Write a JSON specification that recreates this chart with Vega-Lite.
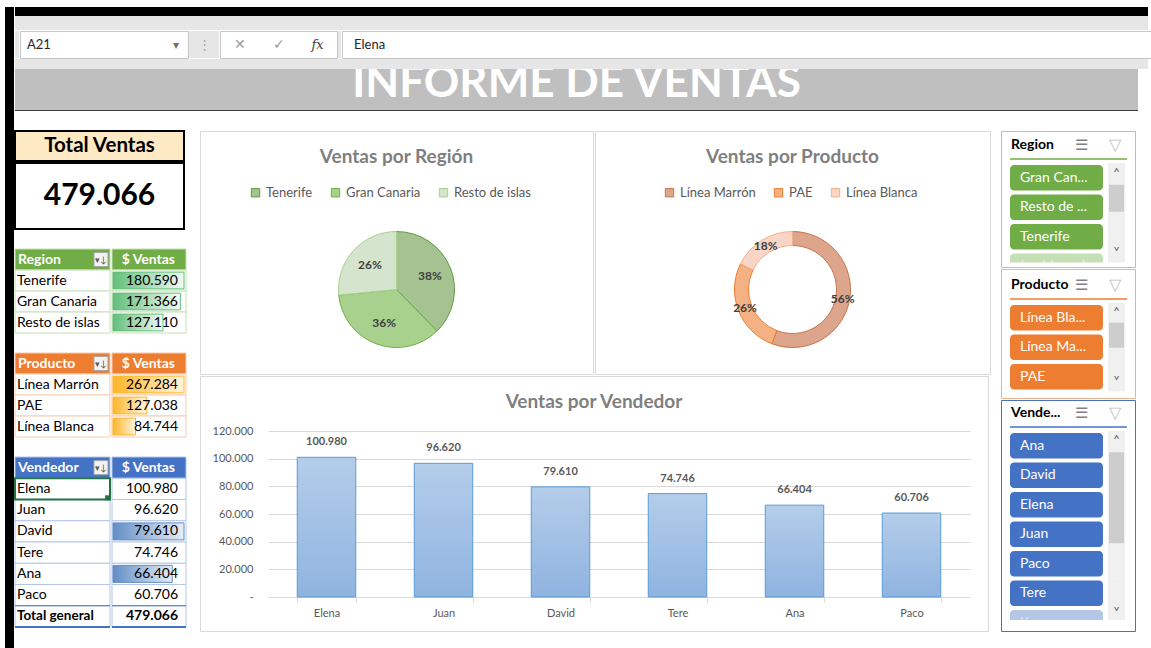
{
  "$schema": "https://vega.github.io/schema/vega-lite/v6.json",
  "background": "#ffffff",
  "padding": {"left": 5, "top": 7, "right": 0, "bottom": 0},
  "usermeta": {"embedOptions": {"actions": false}},
  "datasets": {
    "total": [{"Etiqueta": "Total Ventas", "Total": 479066}],
    "region": [
      {"Region": "Tenerife", "Ventas": 180590, "Pct": "38%"},
      {"Region": "Gran Canaria", "Ventas": 171366, "Pct": "36%"},
      {"Region": "Resto de islas", "Ventas": 127110, "Pct": "26%"}
    ],
    "producto": [
      {"Producto": "Línea Marrón", "Ventas": 267284, "Pct": "56%"},
      {"Producto": "PAE", "Ventas": 127038, "Pct": "26%"},
      {"Producto": "Línea Blanca", "Ventas": 84744, "Pct": "18%"}
    ],
    "vendedor": [
      {"Vendedor": "Elena", "Ventas": 100980},
      {"Vendedor": "Juan", "Ventas": 96620},
      {"Vendedor": "David", "Ventas": 79610},
      {"Vendedor": "Tere", "Ventas": 74746},
      {"Vendedor": "Ana", "Ventas": 66404},
      {"Vendedor": "Paco", "Ventas": 60706}
    ],
    "tablaRegion": [
      {"Label": "Region", "Head": "$ Ventas"},
      {"Label": "Tenerife", "Ventas": 180590},
      {"Label": "Gran Canaria", "Ventas": 171366},
      {"Label": "Resto de islas", "Ventas": 127110}
    ],
    "tablaProducto": [
      {"Label": "Producto", "Head": "$ Ventas"},
      {"Label": "Línea Marrón", "Ventas": 267284},
      {"Label": "PAE", "Ventas": 127038},
      {"Label": "Línea Blanca", "Ventas": 84744}
    ],
    "tablaVendedor": [
      {"Label": "Vendedor", "Head": "$ Ventas"},
      {"Label": "Elena", "Ventas": 100980},
      {"Label": "Juan", "Ventas": 96620},
      {"Label": "David", "Ventas": 79610},
      {"Label": "Tere", "Ventas": 74746},
      {"Label": "Ana", "Ventas": 66404},
      {"Label": "Paco", "Ventas": 60706},
      {"Label": "Total general", "Ventas": 479066}
    ]
  },
  "spacing": 0,
  "resolve": {"scale": {"color": "independent", "stroke": "independent"}, "legend": {"color": "independent", "stroke": "independent"}},
  "hconcat": [
    {"width": 9, "height": 641, "view": {"fill": "#000000"}, "data": {"values": [{}]}, "mark": {"type": "rect", "opacity": 0}, "encoding": {}},
    {
      "spacing": 0,
      "resolve": {"scale": {"color": "independent", "stroke": "independent"}, "legend": {"color": "independent", "stroke": "independent"}},
      "vconcat": [
        {"width": 1133, "height": 9, "view": {"fill": "#000000"}, "data": {"values": [{}]}, "mark": {"type": "rect", "opacity": 0}, "encoding": {}},
        {
          "spacing": 0,
          "vconcat": [
            {"width": 1133, "height": 14, "view": {"fill": "#e6e6e6"}, "data": {"values": [{}]}, "mark": {"type": "rect", "opacity": 0}, "encoding": {}},
            {
              "spacing": 0,
              "hconcat": [
                {"width": 4, "height": 27, "view": {"fill": "#e6e6e6"}, "data": {"values": [{}]}, "mark": {"type": "rect", "opacity": 0}, "encoding": {}},
                {
                  "width": 168, "height": 27,
                  "view": {"fill": "#ffffff", "stroke": "#c6c6c6"},
                  "data": {"values": [{"Celda": "A21"}]},
                  "layer": [
                    {"mark": {"type": "text", "align": "left", "dx": 7, "fontSize": 13, "color": "#262626"},
                     "encoding": {"x": {"datum": 0, "type": "quantitative", "scale": {"domain": [0, 1]}, "axis": null}, "text": {"field": "Celda"}}},
                    {"mark": {"type": "text", "text": "▾", "dx": -12, "fontSize": 12, "color": "#707070"},
                     "encoding": {"x": {"datum": 1, "type": "quantitative", "scale": {"domain": [0, 1]}, "axis": null}}}
                  ]
                },
                {"width": 30, "height": 27, "view": {"fill": "#e6e6e6"}, "data": {"values": [{}]}, "mark": {"type": "text", "text": "⋮", "fontSize": 13, "color": "#a6a6a6"}, "encoding": {}},
                {
                  "width": 117, "height": 27,
                  "view": {"fill": "#ffffff", "stroke": "#c6c6c6"},
                  "data": {"values": [{"Icono": "✕"}, {"Icono": "✓"}, {"Icono": "fx"}]},
                  "encoding": {"x": {"field": "Icono", "type": "nominal", "sort": null, "axis": null, "scale": {"paddingInner": 0, "paddingOuter": 0}}},
                  "layer": [
                    {"transform": [{"filter": "datum.Icono !== 'fx'"}], "mark": {"type": "text", "fontSize": 14, "color": "#9a9a9a"}, "encoding": {"text": {"field": "Icono"}}},
                    {"transform": [{"filter": "datum.Icono === 'fx'"}], "mark": {"type": "text", "fontSize": 13, "font": "DejaVu Serif", "fontStyle": "italic", "color": "#404040"}, "encoding": {"text": {"field": "Icono"}}}
                  ]
                },
                {"width": 3, "height": 27, "view": {"fill": "#e6e6e6"}, "data": {"values": [{}]}, "mark": {"type": "rect", "opacity": 0}, "encoding": {}},
                {
                  "width": 811, "height": 27,
                  "view": {"fill": "#ffffff", "stroke": "#c6c6c6"},
                  "data": {"values": [{"Contenido": "Elena"}]},
                  "mark": {"type": "text", "align": "left", "dx": 12, "fontSize": 13, "color": "#262626"},
                  "encoding": {"x": {"datum": 0, "type": "quantitative", "scale": {"domain": [0, 1]}, "axis": null}, "text": {"field": "Contenido"}}
                }
              ]
            },
            {"width": 1133, "height": 10, "view": {"fill": "#e6e6e6"}, "data": {"values": [{}]}, "mark": {"type": "rect", "opacity": 0}, "encoding": {}}
          ]
        },
        {
          "spacing": 0,
          "vconcat": [
            {
              "width": 1123, "height": 41,
              "view": {"fill": "#bfbfbf"},
              "data": {"values": [{"Titulo": "INFORME DE VENTAS"}]},
              "mark": {"type": "text", "fontSize": 44, "fontWeight": "bold", "color": "#ffffff", "baseline": "alphabetic", "dy": 7, "clip": true},
              "encoding": {"text": {"field": "Titulo"}}
            },
            {"width": 1123, "height": 1, "view": {"fill": "#3f3f3f"}, "data": {"values": [{}]}, "mark": {"type": "rect", "opacity": 0}, "encoding": {}}
          ]
        },
        {"width": 1133, "height": 19, "data": {"values": [{}]}, "mark": {"type": "rect", "opacity": 0}, "encoding": {}},
        {
          "spacing": 12,
          "resolve": {"scale": {"color": "independent", "stroke": "independent"}, "legend": {"color": "independent", "stroke": "independent"}},
          "hconcat": [
            {
              "spacing": 18,
              "vconcat": [
                {
                  "spacing": 0,
                  "vconcat": [
                    {"width": 169, "height": 30, "view": {"fill": "#fde9c4", "stroke": "#000000", "strokeWidth": 2}, "data": {"name": "total"},
                     "mark": {"type": "text", "fontSize": 20.5, "fontWeight": "bold", "color": "#000000"}, "encoding": {"text": {"field": "Etiqueta"}}},
                    {"width": 169, "height": 66, "view": {"fill": "#ffffff", "stroke": "#000000", "strokeWidth": 2}, "data": {"name": "total"},
                     "mark": {"type": "text", "fontSize": 30, "fontWeight": "bold", "color": "#000000"}, "encoding": {"text": {"field": "Total", "type": "quantitative", "format": ",.0f"}}}
                  ]
                },
                {
                  "spacing": 0,
                  "hconcat": [
                    {
                      "width": 95, "height": 84,
                      "data": {"name": "tablaRegion"},
                      "encoding": {"y": {"field": "Label", "type": "nominal", "sort": null, "axis": null, "scale": {"paddingInner": 0, "paddingOuter": 0}}},
                      "layer": [
                        {"mark": {"type": "rect", "stroke": "#c6e0b4", "strokeWidth": 1},
                         "encoding": {"fill": {"condition": {"test": "datum.Head != null", "value": "#70ad47"}, "value": "#ffffff"}}},
                        {"transform": [{"filter": "datum.Head != null"}],
                         "mark": {"type": "text", "align": "left", "dx": 3, "fontSize": 14, "fontWeight": "bold", "color": "#ffffff"},
                         "encoding": {"x": {"datum": 0, "type": "quantitative", "scale": {"domain": [0, 1]}, "axis": null}, "text": {"field": "Label"}}},
                        {"transform": [{"filter": "datum.Head == null"}],
                         "mark": {"type": "text", "align": "left", "dx": 2, "fontSize": 14, "color": "#000000"},
                         "encoding": {"x": {"datum": 0, "type": "quantitative", "scale": {"domain": [0, 1]}, "axis": null}, "text": {"field": "Label"}}},
                        {"transform": [{"filter": "datum.Head != null"}],
                         "mark": {"type": "point", "shape": "square", "size": 196, "filled": true, "fill": "#f2f2f2", "stroke": "#a6a6a6", "strokeWidth": 1, "opacity": 1},
                         "encoding": {"x": {"datum": 0.905, "type": "quantitative", "scale": {"domain": [0, 1]}, "axis": null}}},
                        {"transform": [{"filter": "datum.Head != null"}],
                         "mark": {"type": "text", "text": "▾↓", "fontSize": 9, "color": "#595959"},
                         "encoding": {"x": {"datum": 0.905, "type": "quantitative", "scale": {"domain": [0, 1]}, "axis": null}}}
                      ]
                    },
                    {
                      "width": 74, "height": 84,
                      "data": {"name": "tablaRegion"},
                      "encoding": {"y": {"field": "Label", "type": "nominal", "sort": null, "axis": null, "scale": {"paddingInner": 0, "paddingOuter": 0}}},
                      "layer": [
                        {"mark": {"type": "rect", "stroke": "#c6e0b4", "strokeWidth": 1},
                         "encoding": {"fill": {"condition": {"test": "datum.Head != null", "value": "#70ad47"}, "value": "#ffffff"}}},
                        {"transform": [{"filter": "datum.Ventas != null"}],
                         "mark": {"type": "bar", "height": {"band": 0.8}, "stroke": "#63be7b", "strokeWidth": 1,
                                  "fill": {"gradient": "linear", "x1": 0, "y1": 0, "x2": 1, "y2": 0, "stops": [{"offset": 0, "color": "#63be7b"}, {"offset": 1, "color": "#f2f9f4"}]}},
                         "encoding": {"x": {"field": "Ventas", "type": "quantitative", "axis": null, "scale": {"domain": [0, 180590], "range": [1, 72], "nice": false}}}},
                        {"transform": [{"filter": "datum.Head != null"}],
                         "mark": {"type": "text", "align": "right", "dx": -9, "fontSize": 14, "fontWeight": "bold", "color": "#ffffff"},
                         "encoding": {"x": {"datum": 180590, "type": "quantitative"}, "text": {"field": "Head"}}},
                        {"transform": [{"filter": "datum.Ventas != null"}],
                         "mark": {"type": "text", "align": "right", "dx": -6, "fontSize": 14, "color": "#000000"},
                         "encoding": {"x": {"datum": 180590, "type": "quantitative"}, "text": {"field": "Ventas", "type": "quantitative", "format": ",.0f"}}}
                      ]
                    }
                  ]
                },
                {
                  "spacing": 0,
                  "hconcat": [
                    {
                      "width": 95, "height": 84,
                      "data": {"name": "tablaProducto"},
                      "encoding": {"y": {"field": "Label", "type": "nominal", "sort": null, "axis": null, "scale": {"paddingInner": 0, "paddingOuter": 0}}},
                      "layer": [
                        {"mark": {"type": "rect", "stroke": "#f8cbad", "strokeWidth": 1},
                         "encoding": {"fill": {"condition": {"test": "datum.Head != null", "value": "#ed7d31"}, "value": "#ffffff"}}},
                        {"transform": [{"filter": "datum.Head != null"}],
                         "mark": {"type": "text", "align": "left", "dx": 3, "fontSize": 14, "fontWeight": "bold", "color": "#ffffff"},
                         "encoding": {"x": {"datum": 0, "type": "quantitative", "scale": {"domain": [0, 1]}, "axis": null}, "text": {"field": "Label"}}},
                        {"transform": [{"filter": "datum.Head == null"}],
                         "mark": {"type": "text", "align": "left", "dx": 2, "fontSize": 14, "color": "#000000"},
                         "encoding": {"x": {"datum": 0, "type": "quantitative", "scale": {"domain": [0, 1]}, "axis": null}, "text": {"field": "Label"}}},
                        {"transform": [{"filter": "datum.Head != null"}],
                         "mark": {"type": "point", "shape": "square", "size": 196, "filled": true, "fill": "#f2f2f2", "stroke": "#a6a6a6", "strokeWidth": 1, "opacity": 1},
                         "encoding": {"x": {"datum": 0.905, "type": "quantitative", "scale": {"domain": [0, 1]}, "axis": null}}},
                        {"transform": [{"filter": "datum.Head != null"}],
                         "mark": {"type": "text", "text": "▾↓", "fontSize": 9, "color": "#595959"},
                         "encoding": {"x": {"datum": 0.905, "type": "quantitative", "scale": {"domain": [0, 1]}, "axis": null}}}
                      ]
                    },
                    {
                      "width": 74, "height": 84,
                      "data": {"name": "tablaProducto"},
                      "encoding": {"y": {"field": "Label", "type": "nominal", "sort": null, "axis": null, "scale": {"paddingInner": 0, "paddingOuter": 0}}},
                      "layer": [
                        {"mark": {"type": "rect", "stroke": "#f8cbad", "strokeWidth": 1},
                         "encoding": {"fill": {"condition": {"test": "datum.Head != null", "value": "#ed7d31"}, "value": "#ffffff"}}},
                        {"transform": [{"filter": "datum.Ventas != null"}],
                         "mark": {"type": "bar", "height": {"band": 0.8}, "stroke": "#ffb628", "strokeWidth": 1,
                                  "fill": {"gradient": "linear", "x1": 0, "y1": 0, "x2": 1, "y2": 0, "stops": [{"offset": 0, "color": "#ffb628"}, {"offset": 1, "color": "#fff4df"}]}},
                         "encoding": {"x": {"field": "Ventas", "type": "quantitative", "axis": null, "scale": {"domain": [0, 267284], "range": [1, 72], "nice": false}}}},
                        {"transform": [{"filter": "datum.Head != null"}],
                         "mark": {"type": "text", "align": "right", "dx": -9, "fontSize": 14, "fontWeight": "bold", "color": "#ffffff"},
                         "encoding": {"x": {"datum": 267284, "type": "quantitative"}, "text": {"field": "Head"}}},
                        {"transform": [{"filter": "datum.Ventas != null"}],
                         "mark": {"type": "text", "align": "right", "dx": -6, "fontSize": 14, "color": "#000000"},
                         "encoding": {"x": {"datum": 267284, "type": "quantitative"}, "text": {"field": "Ventas", "type": "quantitative", "format": ",.0f"}}}
                      ]
                    }
                  ]
                },
                {
                  "spacing": 0,
                  "hconcat": [
                    {
                      "width": 95, "height": 170,
                      "data": {"name": "tablaVendedor"},
                      "encoding": {"y": {"field": "Label", "type": "nominal", "sort": null, "axis": null, "scale": {"paddingInner": 0, "paddingOuter": 0}}},
                      "layer": [
                        {"mark": {"type": "rect", "stroke": "#b4c6e7", "strokeWidth": 1},
                         "encoding": {"fill": {"condition": {"test": "datum.Head != null", "value": "#4472c4"}, "value": "#ffffff"}}},
                        {"transform": [{"filter": "datum.Head != null"}],
                         "mark": {"type": "text", "align": "left", "dx": 3, "fontSize": 14, "fontWeight": "bold", "color": "#ffffff"},
                         "encoding": {"x": {"datum": 0, "type": "quantitative", "scale": {"domain": [0, 1]}, "axis": null}, "text": {"field": "Label"}}},
                        {"transform": [{"filter": "datum.Head == null && datum.Label !== 'Total general'"}],
                         "mark": {"type": "text", "align": "left", "dx": 2, "fontSize": 14, "color": "#000000"},
                         "encoding": {"x": {"datum": 0, "type": "quantitative", "scale": {"domain": [0, 1]}, "axis": null}, "text": {"field": "Label"}}},
                        {"transform": [{"filter": "datum.Label === 'Total general'"}],
                         "mark": {"type": "text", "align": "left", "dx": 2, "fontSize": 13.5, "fontWeight": "bold", "color": "#000000"},
                         "encoding": {"x": {"datum": 0, "type": "quantitative", "scale": {"domain": [0, 1]}, "axis": null}, "text": {"field": "Label"}}},
                        {"transform": [{"filter": "datum.Label === 'Total general'"}],
                         "mark": {"type": "rule", "color": "#4472c4", "strokeWidth": 1},
                         "encoding": {"y": {"field": "Label", "type": "nominal", "sort": null, "bandPosition": 0}}},
                        {"transform": [{"filter": "datum.Label === 'Total general'"}],
                         "mark": {"type": "rule", "color": "#4472c4", "strokeWidth": 2},
                         "encoding": {"y": {"field": "Label", "type": "nominal", "sort": null, "bandPosition": 1}}},
                        {"transform": [{"filter": "datum.Label === 'Elena'"}],
                         "mark": {"type": "rect", "fillOpacity": 0, "stroke": "#217346", "strokeWidth": 2}},
                        {"transform": [{"filter": "datum.Label === 'Elena'"}],
                         "mark": {"type": "point", "shape": "square", "size": 25, "filled": true, "color": "#217346", "opacity": 1},
                         "encoding": {"x": {"datum": 0.975, "type": "quantitative", "scale": {"domain": [0, 1]}, "axis": null}, "y": {"field": "Label", "type": "nominal", "sort": null, "bandPosition": 0.92}}},
                        {"transform": [{"filter": "datum.Head != null"}],
                         "mark": {"type": "point", "shape": "square", "size": 196, "filled": true, "fill": "#f2f2f2", "stroke": "#a6a6a6", "strokeWidth": 1, "opacity": 1},
                         "encoding": {"x": {"datum": 0.905, "type": "quantitative", "scale": {"domain": [0, 1]}, "axis": null}}},
                        {"transform": [{"filter": "datum.Head != null"}],
                         "mark": {"type": "text", "text": "▾↓", "fontSize": 9, "color": "#595959"},
                         "encoding": {"x": {"datum": 0.905, "type": "quantitative", "scale": {"domain": [0, 1]}, "axis": null}}}
                      ]
                    },
                    {
                      "width": 74, "height": 170,
                      "data": {"name": "tablaVendedor"},
                      "encoding": {"y": {"field": "Label", "type": "nominal", "sort": null, "axis": null, "scale": {"paddingInner": 0, "paddingOuter": 0}}},
                      "layer": [
                        {"mark": {"type": "rect", "stroke": "#b4c6e7", "strokeWidth": 1},
                         "encoding": {"fill": {"condition": {"test": "datum.Head != null", "value": "#4472c4"}, "value": "#ffffff"}}},
                        {"transform": [{"filter": {"field": "Label", "oneOf": ["David", "Ana"]}}],
                         "mark": {"type": "bar", "height": {"band": 0.8}, "stroke": "#638ec6", "strokeWidth": 1,
                                  "fill": {"gradient": "linear", "x1": 0, "y1": 0, "x2": 1, "y2": 0, "stops": [{"offset": 0, "color": "#638ec6"}, {"offset": 1, "color": "#e6edf7"}]}},
                         "encoding": {"x": {"field": "Ventas", "type": "quantitative", "axis": null, "scale": {"domain": [0, 79610], "range": [1, 72], "nice": false}}}},
                        {"transform": [{"filter": "datum.Label === 'Total general'"}],
                         "mark": {"type": "rule", "color": "#4472c4", "strokeWidth": 1},
                         "encoding": {"y": {"field": "Label", "type": "nominal", "sort": null, "bandPosition": 0}}},
                        {"transform": [{"filter": "datum.Label === 'Total general'"}],
                         "mark": {"type": "rule", "color": "#4472c4", "strokeWidth": 2},
                         "encoding": {"y": {"field": "Label", "type": "nominal", "sort": null, "bandPosition": 1}}},
                        {"transform": [{"filter": "datum.Head != null"}],
                         "mark": {"type": "text", "align": "right", "dx": -9, "fontSize": 14, "fontWeight": "bold", "color": "#ffffff"},
                         "encoding": {"x": {"datum": 79610, "type": "quantitative"}, "text": {"field": "Head"}}},
                        {"transform": [{"filter": "datum.Ventas != null && datum.Label !== 'Total general'"}],
                         "mark": {"type": "text", "align": "right", "dx": -6, "fontSize": 14, "color": "#000000"},
                         "encoding": {"x": {"datum": 79610, "type": "quantitative"}, "text": {"field": "Ventas", "type": "quantitative", "format": ",.0f"}}},
                        {"transform": [{"filter": "datum.Label === 'Total general'"}],
                         "mark": {"type": "text", "align": "right", "dx": -6, "fontSize": 14, "fontWeight": "bold", "color": "#000000"},
                         "encoding": {"x": {"datum": 79610, "type": "quantitative"}, "text": {"field": "Ventas", "type": "quantitative", "format": ",.0f"}}}
                      ]
                    }
                  ]
                }
              ]
            },
            {
              "spacing": 9,
              "resolve": {"scale": {"color": "independent", "stroke": "independent"}, "legend": {"color": "independent", "stroke": "independent"}},
              "hconcat": [
                {
                  "spacing": 0,
                  "resolve": {"scale": {"color": "independent", "stroke": "independent"}, "legend": {"color": "independent", "stroke": "independent"}},
                  "vconcat": [
                    {
                      "spacing": 0,
                      "resolve": {"scale": {"color": "independent", "stroke": "independent"}, "legend": {"color": "independent", "stroke": "independent"}},
                      "hconcat": [
                        {
                          "width": 393, "height": 243,
                          "view": {"stroke": "#d9d9d9", "fill": "#ffffff"},
                          "title": {"text": "Ventas por Región", "offset": -36, "frame": "group"},
                          "data": {"name": "region"},
                          "encoding": {
                            "theta": {"field": "Ventas", "type": "quantitative", "stack": true},
                            "order": {"field": "Ventas", "type": "quantitative", "sort": "descending"}
                          },
                          "layer": [
                            {"mark": {"type": "arc", "outerRadius": 58, "strokeWidth": 1, "yOffset": 37},
                             "encoding": {
                               "color": {"field": "Region", "type": "nominal", "scale": {"domain": ["Tenerife", "Gran Canaria", "Resto de islas"], "range": ["#a5c391", "#a9d18e", "#d5e5cd"]},
                                         "legend": {"orient": "none", "legendX": 49, "legendY": 55, "direction": "horizontal", "title": null, "symbolType": "square", "symbolSize": 70, "symbolStrokeWidth": 1, "labelFontSize": 13, "labelColor": "#595959", "columnPadding": 16, "labelOffset": 4}},
                               "stroke": {"field": "Region", "type": "nominal", "scale": {"domain": ["Tenerife", "Gran Canaria", "Resto de islas"], "range": ["#5f9a3c", "#70ad47", "#a9d18e"]},
                                          "legend": {"orient": "none", "legendX": 49, "legendY": 55, "direction": "horizontal", "title": null, "symbolType": "square", "symbolSize": 70, "symbolStrokeWidth": 1, "labelFontSize": 13, "labelColor": "#595959", "columnPadding": 16, "labelOffset": 4}}
                             }},
                            {"mark": {"type": "text", "radius": 36, "dy": 37, "fontSize": 12, "fontWeight": "bold", "color": "#404040"},
                             "encoding": {"text": {"field": "Pct"}}}
                          ]
                        },
                        {
                          "width": 395, "height": 243,
                          "view": {"stroke": "#d9d9d9", "fill": "#ffffff"},
                          "title": {"text": "Ventas por Producto", "offset": -36, "frame": "group"},
                          "data": {"name": "producto"},
                          "encoding": {
                            "theta": {"field": "Ventas", "type": "quantitative", "stack": true},
                            "order": {"field": "Ventas", "type": "quantitative", "sort": "descending"}
                          },
                          "layer": [
                            {"mark": {"type": "arc", "outerRadius": 58, "innerRadius": 44, "strokeWidth": 1, "yOffset": 37},
                             "encoding": {
                               "color": {"field": "Producto", "type": "nominal", "scale": {"domain": ["Línea Marrón", "PAE", "Línea Blanca"], "range": ["#dca58c", "#f4b183", "#f8d5c7"]},
                                         "legend": {"orient": "none", "legendX": 68, "legendY": 55, "direction": "horizontal", "title": null, "symbolType": "square", "symbolSize": 70, "symbolStrokeWidth": 1, "labelFontSize": 13, "labelColor": "#595959", "columnPadding": 16, "labelOffset": 4}},
                               "stroke": {"field": "Producto", "type": "nominal", "scale": {"domain": ["Línea Marrón", "PAE", "Línea Blanca"], "range": ["#c8764c", "#ed7d31", "#f4b183"]},
                                          "legend": {"orient": "none", "legendX": 68, "legendY": 55, "direction": "horizontal", "title": null, "symbolType": "square", "symbolSize": 70, "symbolStrokeWidth": 1, "labelFontSize": 13, "labelColor": "#595959", "columnPadding": 16, "labelOffset": 4}}
                             }},
                            {"mark": {"type": "text", "radius": 51, "dy": 37, "fontSize": 12, "fontWeight": "bold", "color": "#404040"},
                             "encoding": {"text": {"field": "Pct"}}}
                          ]
                        }
                      ]
                    },
                    {
                      "width": 788, "height": 255,
                      "view": {"stroke": "#d9d9d9", "fill": "#ffffff"},
                      "title": {"text": "Ventas por Vendedor", "offset": -36, "frame": "group"},
                      "data": {"name": "vendedor"},
                      "encoding": {
                        "x": {"field": "Vendedor", "type": "nominal", "sort": null, "title": null,
                              "scale": {"range": [68, 770], "paddingInner": 0.5, "paddingOuter": 0.25},
                              "axis": {"offset": -34, "labelAngle": 0, "domainColor": "#d9d9d9", "tickColor": "#d9d9d9", "tickBand": "extent", "tickSize": 5, "labelColor": "#595959", "labelFontSize": 11, "labelPadding": 5, "grid": false}},
                        "y": {"field": "Ventas", "type": "quantitative", "title": null,
                              "scale": {"domain": [0, 120000], "range": [221, 55], "nice": false},
                              "axis": {"offset": -68, "values": [0, 20000, 40000, 60000, 80000, 100000, 120000], "format": ",.0f", "labelExpr": "datum.value === 0 ? '-' : datum.label", "domain": false, "ticks": false, "tickSize": 0, "labelPadding": 15, "gridColor": "#d9d9d9", "labelColor": "#595959", "labelFontSize": 11}}
                      },
                      "layer": [
                        {"mark": {"type": "bar", "stroke": "#5b9bd5", "strokeWidth": 1,
                                  "fill": {"gradient": "linear", "x1": 0, "y1": 0, "x2": 0, "y2": 1, "stops": [{"offset": 0, "color": "#b4cdea"}, {"offset": 1, "color": "#8fb4e0"}]}}},
                        {"mark": {"type": "text", "dy": -15, "fontSize": 11, "fontWeight": "bold", "color": "#595959"},
                         "encoding": {"text": {"field": "Ventas", "type": "quantitative", "format": ",.0f"}}}
                      ]
                    }
                  ]
                },
                {
                  "spacing": 0,
                  "vconcat": [
                    {
                      "width": 134, "height": 136,
                      "view": {"stroke": "#a9d18e", "strokeWidth": 1, "fill": "#ffffff"},
                      "data": {"values": [
                        {"Elemento": "Region", "Estado": "titulo"},
                        {"Elemento": "Gran Can...", "Estado": "activo"},
                        {"Elemento": "Resto de ...", "Estado": "activo"},
                        {"Elemento": "Tenerife", "Estado": "activo"},
                        {"Elemento": "(en blanco)", "Estado": "inactivo"}
                      ]},
                      "encoding": {"y": {"field": "Elemento", "type": "nominal", "sort": null, "axis": null, "scale": {"domain": ["Region", "Gran Can...", "Resto de ...", "Tenerife", "(en blanco)"], "range": [4.5, 148], "paddingInner": 0.136, "paddingOuter": 0}}},
                      "layer": [
                        {"transform": [{"filter": "datum.Estado !== 'titulo'"}], "mark": {"type": "rect", "fill": "#f0f0f0", "height": {"band": 1.16}, "clip": true},
                         "encoding": {"x": {"datum": 0.799, "type": "quantitative", "scale": {"domain": [0, 1]}, "axis": null}, "x2": {"datum": 0.925}}},
                        {"transform": [{"filter": "datum.Elemento === 'Resto de ...'"}], "mark": {"type": "rect", "fill": "#cdcdcd", "height": 27, "yOffset": -9},
                         "encoding": {"x": {"datum": 0.806, "type": "quantitative", "scale": {"domain": [0, 1]}, "axis": null}, "x2": {"datum": 0.918}}},
                        {"transform": [{"filter": "datum.Estado !== 'titulo'"}], "mark": {"type": "rect", "cornerRadius": 4, "clip": true},
                         "encoding": {"x": {"datum": 0.067, "type": "quantitative", "scale": {"domain": [0, 1]}, "axis": null}, "x2": {"datum": 0.761},
                                      "fill": {"condition": {"test": "datum.Estado === 'inactivo'", "value": "#c5e0b4"}, "value": "#70ad47"}}},
                        {"transform": [{"filter": "datum.Estado !== 'titulo'"}], "mark": {"type": "text", "align": "left", "dx": 10, "fontSize": 14, "clip": true},
                         "encoding": {"x": {"datum": 0.067, "type": "quantitative", "scale": {"domain": [0, 1]}, "axis": null}, "text": {"field": "Elemento"},
                                      "fill": {"condition": {"test": "datum.Estado === 'inactivo'", "value": "#e2efda"}, "value": "#ffffff"}}},
                        {"transform": [{"filter": "datum.Estado === 'inactivo'"}], "mark": {"type": "rect", "fill": "#ffffff", "yOffset": 9, "clip": true},
                         "encoding": {"x": {"datum": 0.03, "type": "quantitative", "scale": {"domain": [0, 1]}, "axis": null}, "x2": {"datum": 0.97}}},
                        {"transform": [{"filter": "datum.Estado === 'titulo'"}], "mark": {"type": "text", "align": "left", "fontSize": 14, "fontWeight": "bold", "color": "#000000", "dy": -3},
                         "encoding": {"x": {"datum": 0.075, "type": "quantitative", "scale": {"domain": [0, 1]}, "axis": null}, "text": {"field": "Elemento"}}},
                        {"transform": [{"filter": "datum.Estado === 'titulo'"}], "mark": {"type": "rule", "color": "#70ad47", "strokeWidth": 1.5, "yOffset": -2},
                         "encoding": {"x": {"datum": 0.067, "type": "quantitative", "scale": {"domain": [0, 1]}, "axis": null}, "x2": {"datum": 0.94}, "y": {"field": "Elemento", "type": "nominal", "sort": null, "bandPosition": 1}}},
                        {"transform": [{"filter": "datum.Estado === 'titulo'"}], "mark": {"type": "text", "text": "☰", "fontSize": 15, "color": "#808080", "dy": -3},
                         "encoding": {"x": {"datum": 0.6, "type": "quantitative", "scale": {"domain": [0, 1]}, "axis": null}}},
                        {"transform": [{"filter": "datum.Estado === 'titulo'"}], "mark": {"type": "text", "text": "▽", "fontSize": 16, "color": "#c0c0c0", "dy": -3},
                         "encoding": {"x": {"datum": 0.85, "type": "quantitative", "scale": {"domain": [0, 1]}, "axis": null}}},
                        {"transform": [{"filter": "datum.Elemento === 'Gran Can...'"}], "mark": {"type": "text", "text": "˄", "fontSize": 13, "color": "#606060", "dy": -4},
                         "encoding": {"x": {"datum": 0.862, "type": "quantitative", "scale": {"domain": [0, 1]}, "axis": null}}},
                        {"transform": [{"filter": "datum.Elemento === 'Tenerife'"}], "mark": {"type": "text", "text": "˅", "fontSize": 13, "color": "#606060", "dy": 16},
                         "encoding": {"x": {"datum": 0.862, "type": "quantitative", "scale": {"domain": [0, 1]}, "axis": null}}}
                      ]
                    },
                    {
                      "width": 134, "height": 129,
                      "view": {"stroke": "#f4b183", "strokeWidth": 1, "fill": "#ffffff"},
                      "data": {"values": [
                        {"Elemento": "Producto", "Estado": "titulo"},
                        {"Elemento": "Línea Bla...", "Estado": "activo"},
                        {"Elemento": "Línea Ma...", "Estado": "activo"},
                        {"Elemento": "PAE", "Estado": "activo"}
                      ]},
                      "encoding": {"y": {"field": "Elemento", "type": "nominal", "sort": null, "axis": null, "scale": {"domain": ["Producto", "Línea Bla...", "Línea Ma...", "PAE"], "range": [6.5, 120.5], "paddingInner": 0.136, "paddingOuter": 0}}},
                      "layer": [
                        {"transform": [{"filter": "datum.Estado !== 'titulo'"}], "mark": {"type": "rect", "fill": "#f0f0f0", "height": {"band": 1.16}, "clip": true},
                         "encoding": {"x": {"datum": 0.799, "type": "quantitative", "scale": {"domain": [0, 1]}, "axis": null}, "x2": {"datum": 0.925}}},
                        {"transform": [{"filter": "datum.Elemento === 'Línea Ma...'"}], "mark": {"type": "rect", "fill": "#cdcdcd", "height": 25, "yOffset": -12},
                         "encoding": {"x": {"datum": 0.806, "type": "quantitative", "scale": {"domain": [0, 1]}, "axis": null}, "x2": {"datum": 0.918}}},
                        {"transform": [{"filter": "datum.Estado !== 'titulo'"}], "mark": {"type": "rect", "cornerRadius": 4, "clip": true, "fill": "#ed7d31"},
                         "encoding": {"x": {"datum": 0.067, "type": "quantitative", "scale": {"domain": [0, 1]}, "axis": null}, "x2": {"datum": 0.761}}},
                        {"transform": [{"filter": "datum.Estado !== 'titulo'"}], "mark": {"type": "text", "align": "left", "dx": 10, "fontSize": 14, "clip": true, "color": "#ffffff"},
                         "encoding": {"x": {"datum": 0.067, "type": "quantitative", "scale": {"domain": [0, 1]}, "axis": null}, "text": {"field": "Elemento"}}},
                        {"transform": [{"filter": "datum.Estado === 'titulo'"}], "mark": {"type": "text", "align": "left", "fontSize": 14, "fontWeight": "bold", "color": "#000000", "dy": -3},
                         "encoding": {"x": {"datum": 0.075, "type": "quantitative", "scale": {"domain": [0, 1]}, "axis": null}, "text": {"field": "Elemento"}}},
                        {"transform": [{"filter": "datum.Estado === 'titulo'"}], "mark": {"type": "rule", "color": "#ed7d31", "strokeWidth": 1.5, "yOffset": -2},
                         "encoding": {"x": {"datum": 0.067, "type": "quantitative", "scale": {"domain": [0, 1]}, "axis": null}, "x2": {"datum": 0.94}, "y": {"field": "Elemento", "type": "nominal", "sort": null, "bandPosition": 1}}},
                        {"transform": [{"filter": "datum.Estado === 'titulo'"}], "mark": {"type": "text", "text": "☰", "fontSize": 15, "color": "#808080", "dy": -3},
                         "encoding": {"x": {"datum": 0.6, "type": "quantitative", "scale": {"domain": [0, 1]}, "axis": null}}},
                        {"transform": [{"filter": "datum.Estado === 'titulo'"}], "mark": {"type": "text", "text": "▽", "fontSize": 16, "color": "#c0c0c0", "dy": -3},
                         "encoding": {"x": {"datum": 0.85, "type": "quantitative", "scale": {"domain": [0, 1]}, "axis": null}}},
                        {"transform": [{"filter": "datum.Elemento === 'Línea Bla...'"}], "mark": {"type": "text", "text": "˄", "fontSize": 13, "color": "#606060", "dy": -5},
                         "encoding": {"x": {"datum": 0.862, "type": "quantitative", "scale": {"domain": [0, 1]}, "axis": null}}},
                        {"transform": [{"filter": "datum.Elemento === 'PAE'"}], "mark": {"type": "text", "text": "˅", "fontSize": 13, "color": "#606060", "dy": 5},
                         "encoding": {"x": {"datum": 0.862, "type": "quantitative", "scale": {"domain": [0, 1]}, "axis": null}}}
                      ]
                    },
                    {
                      "width": 134, "height": 231,
                      "view": {"stroke": "#4472c4", "strokeWidth": 1, "fill": "#ffffff"},
                      "data": {"values": [
                        {"Elemento": "Vende...", "Estado": "titulo"},
                        {"Elemento": "Ana", "Estado": "activo"},
                        {"Elemento": "David", "Estado": "activo"},
                        {"Elemento": "Elena", "Estado": "activo"},
                        {"Elemento": "Juan", "Estado": "activo"},
                        {"Elemento": "Paco", "Estado": "activo"},
                        {"Elemento": "Tere", "Estado": "activo"},
                        {"Elemento": "Karen", "Estado": "inactivo"}
                      ]},
                      "encoding": {"y": {"field": "Elemento", "type": "nominal", "sort": null, "axis": null, "scale": {"domain": ["Vende...", "Ana", "David", "Elena", "Juan", "Paco", "Tere", "Karen"], "range": [3.5, 235.5], "paddingInner": 0.136, "paddingOuter": 0}}},
                      "layer": [
                        {"transform": [{"filter": "datum.Estado !== 'titulo'"}], "mark": {"type": "rect", "fill": "#f0f0f0", "height": {"band": 1.16}, "clip": true},
                         "encoding": {"x": {"datum": 0.799, "type": "quantitative", "scale": {"domain": [0, 1]}, "axis": null}, "x2": {"datum": 0.925}}},
                        {"transform": [{"filter": "datum.Elemento === 'Elena'"}], "mark": {"type": "rect", "fill": "#cdcdcd", "height": 91, "yOffset": -7},
                         "encoding": {"x": {"datum": 0.806, "type": "quantitative", "scale": {"domain": [0, 1]}, "axis": null}, "x2": {"datum": 0.918}}},
                        {"transform": [{"filter": "datum.Estado !== 'titulo'"}], "mark": {"type": "rect", "cornerRadius": 4, "clip": true},
                         "encoding": {"x": {"datum": 0.067, "type": "quantitative", "scale": {"domain": [0, 1]}, "axis": null}, "x2": {"datum": 0.761},
                                      "fill": {"condition": {"test": "datum.Estado === 'inactivo'", "value": "#b4c7e7"}, "value": "#4472c4"}}},
                        {"transform": [{"filter": "datum.Estado !== 'titulo'"}], "mark": {"type": "text", "align": "left", "dx": 10, "fontSize": 14, "clip": true},
                         "encoding": {"x": {"datum": 0.067, "type": "quantitative", "scale": {"domain": [0, 1]}, "axis": null}, "text": {"field": "Elemento"},
                                      "fill": {"condition": {"test": "datum.Estado === 'inactivo'", "value": "#dae3f3"}, "value": "#ffffff"}}},
                        {"transform": [{"filter": "datum.Estado === 'inactivo'"}], "mark": {"type": "rect", "fill": "#ffffff", "yOffset": 10, "clip": true},
                         "encoding": {"x": {"datum": 0.03, "type": "quantitative", "scale": {"domain": [0, 1]}, "axis": null}, "x2": {"datum": 0.97}}},
                        {"transform": [{"filter": "datum.Estado === 'titulo'"}], "mark": {"type": "text", "align": "left", "fontSize": 14, "fontWeight": "bold", "color": "#000000", "dy": -3},
                         "encoding": {"x": {"datum": 0.075, "type": "quantitative", "scale": {"domain": [0, 1]}, "axis": null}, "text": {"field": "Elemento"}}},
                        {"transform": [{"filter": "datum.Estado === 'titulo'"}], "mark": {"type": "rule", "color": "#4472c4", "strokeWidth": 1.5, "yOffset": -2},
                         "encoding": {"x": {"datum": 0.067, "type": "quantitative", "scale": {"domain": [0, 1]}, "axis": null}, "x2": {"datum": 0.94}, "y": {"field": "Elemento", "type": "nominal", "sort": null, "bandPosition": 1}}},
                        {"transform": [{"filter": "datum.Estado === 'titulo'"}], "mark": {"type": "text", "text": "☰", "fontSize": 15, "color": "#808080", "dy": -3},
                         "encoding": {"x": {"datum": 0.6, "type": "quantitative", "scale": {"domain": [0, 1]}, "axis": null}}},
                        {"transform": [{"filter": "datum.Estado === 'titulo'"}], "mark": {"type": "text", "text": "▽", "fontSize": 16, "color": "#c0c0c0", "dy": -3},
                         "encoding": {"x": {"datum": 0.85, "type": "quantitative", "scale": {"domain": [0, 1]}, "axis": null}}},
                        {"transform": [{"filter": "datum.Elemento === 'Ana'"}], "mark": {"type": "text", "text": "˄", "fontSize": 13, "color": "#606060", "dy": -5},
                         "encoding": {"x": {"datum": 0.862, "type": "quantitative", "scale": {"domain": [0, 1]}, "axis": null}}},
                        {"transform": [{"filter": "datum.Elemento === 'Tere'"}], "mark": {"type": "text", "text": "˅", "fontSize": 13, "color": "#606060", "dy": 20},
                         "encoding": {"x": {"datum": 0.862, "type": "quantitative", "scale": {"domain": [0, 1]}, "axis": null}}}
                      ]
                    }
                  ]
                }
              ]
            }
          ]
        },
        {"width": 1133, "height": 16, "data": {"values": [{}]}, "mark": {"type": "rect", "opacity": 0}, "encoding": {}},
        {"width": 1133, "height": 2, "view": {"fill": "#000000"}, "data": {"values": [{}]}, "mark": {"type": "rect", "opacity": 0}, "encoding": {}}
      ]
    },
    {"width": 4, "height": 641, "view": {"fill": "#000000"}, "data": {"values": [{}]}, "mark": {"type": "rect", "opacity": 0}, "encoding": {}}
  ],
  "config": {
    "view": {"stroke": null},
    "font": "Lato",
    "locale": {"number": {"decimal": ",", "thousands": ".", "grouping": [3], "currency": ["", " €"]}},
    "title": {"color": "#7f7f7f", "fontSize": 19, "fontWeight": "bold"}
  }
}
